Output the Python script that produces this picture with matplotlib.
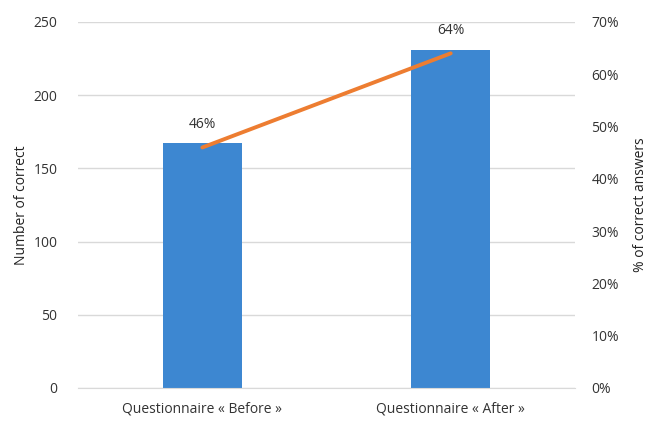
import matplotlib
matplotlib.use("Agg")
import matplotlib.pyplot as plt
from matplotlib.ticker import FuncFormatter

categories = ["Questionnaire « Before »", "Questionnaire « After »"]
correct_counts = [167, 231]
pct_correct = [0.46, 0.64]
pct_labels = ["46%", "64%"]

plt.rcParams['font.family'] = ['Open Sans', 'DejaVu Sans']
txt = '#333333'

fig = plt.figure(figsize=(6.57, 4.21), dpi=100)
ax = fig.add_axes([0.119, 0.0784, 0.756, 0.8694])
x = list(range(len(categories)))
ax.bar(x, correct_counts, width=0.32, color='#3D87D1', zorder=2)
ax.set_xlim(-0.5, 1.5)
ax.set_ylim(0, 250)
ax.set_yticks(range(0, 251, 50))
ax.grid(axis='y', color='#D9D9D9', linewidth=1, zorder=0)
for s in ['top', 'right', 'left']:
    ax.spines[s].set_visible(False)
ax.spines['bottom'].set_color('#D9D9D9')
ax.tick_params(axis='both', length=0, colors=txt, labelsize=10)
ax.tick_params(axis='y', pad=15)
ax.tick_params(axis='x', pad=10)
ax.set_xticks(x)
ax.set_xticklabels(categories)
ax.set_ylabel("Number of correct", color='#222222', fontsize=10, labelpad=3)

ax2 = ax.twinx()
ax2.plot(x, pct_correct, color='#ED7D31', linewidth=2.8, zorder=3, solid_capstyle='round')
ax2.set_ylim(0, 0.7)
ax2.set_yticks([i / 10 for i in range(8)])
ax2.yaxis.set_major_formatter(FuncFormatter(lambda v, p: f"{v*100:.0f}%"))
for s in ax2.spines.values():
    s.set_visible(False)
ax2.tick_params(axis='y', length=0, colors=txt, labelsize=10, pad=12)
ax2.set_ylabel("% of correct answers", color='#222222', fontsize=10, labelpad=10)
for xi, v, lab in zip(x, pct_correct, pct_labels):
    ax2.annotate(lab, (xi, v), xytext=(0, 11), textcoords='offset points',
                 ha='center', va='bottom', color=txt, fontsize=10)

fig.savefig("out.png", dpi=100)
